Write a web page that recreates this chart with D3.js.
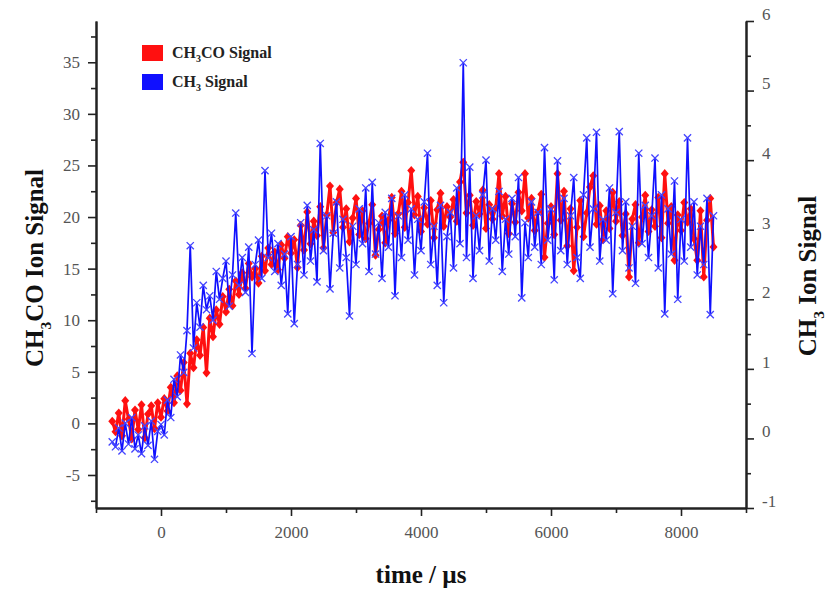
<!DOCTYPE html>
<html><head><meta charset="utf-8">
<script src="https://cdn.jsdelivr.net/npm/d3@7"></script>
<style>body{margin:0;background:#fff}</style>
</head><body>
<svg id="c" width="830" height="590"></svg>
<script>
const timeUs = [-750,-700,-650,-600,-550,-500,-450,-400,-350,-300,-250,-200,-150,-100,-50,
0,50,100,150,200,250,300,350,400,450,500,550,600,650,700,750,800,850,900,950,1000,1050,1100,1150,1200,1250,1300,1350,1400,1450,
1500,1550,1600,1650,1700,1750,1800,1850,1900,1950,2000,2050,2100,2150,2200,2250,2300,2350,2400,2450,2500,2550,2600,2650,2700,2750,2800,2850,2900,2950,
3000,3050,3100,3150,3200,3250,3300,3350,3400,3450,3500,3550,3600,3650,3700,3750,3800,3850,3900,3950,4000,4050,4100,4150,4200,4250,4300,4350,4400,4450,
4500,4550,4600,4650,4700,4750,4800,4850,4900,4950,5000,5050,5100,5150,5200,5250,5300,5350,5400,5450,5500,5550,5600,5650,5700,5750,5800,5850,5900,5950,
6000,6050,6100,6150,6200,6250,6300,6350,6400,6450,6500,6550,6600,6650,6700,6750,6800,6850,6900,6950,7000,7050,7100,7150,7200,7250,7300,7350,7400,7450,
7500,7550,7600,7650,7700,7750,7800,7850,7900,7950,8000,8050,8100,8150,8200,8250,8300,8350,8400,8450,8500];

const ch3coSignal = [0.2,-0.8,1.0,-1.2,2.2,0.4,-1.5,1.3,-0.6,1.8,-1.4,0.9,1.7,-0.5,2.0,
0.6,2.4,1.2,3.5,2.0,4.6,3.2,5.9,1.9,6.8,5.4,8.1,6.6,9.3,4.9,10.2,8.4,11.0,9.6,12.3,10.8,13.0,11.4,13.8,12.5,14.6,13.1,15.5,14.2,15.0,
13.6,16.2,14.8,17.0,15.4,16.6,14.9,17.3,16.0,18.1,16.5,17.8,15.1,19.2,16.8,20.5,17.4,19.6,18.2,21.0,17.0,20.2,23.0,18.5,21.4,22.7,19.0,20.8,17.6,19.9,
21.8,18.3,20.6,17.9,19.4,21.2,16.3,18.8,20.1,17.5,19.7,21.9,18.4,20.3,22.5,19.0,21.4,24.5,20.2,22.0,18.6,20.9,19.3,21.6,18.0,20.7,22.3,19.1,21.0,20.0,
21.7,19.6,23.4,25.3,20.4,22.1,19.2,21.5,20.3,22.6,18.9,21.2,19.8,20.9,24.2,20.1,22.0,18.4,21.3,19.5,22.4,20.6,24.2,19.9,21.8,18.7,20.5,22.2,16.1,19.4,
21.0,18.3,24.2,19.7,22.5,17.2,20.8,14.8,19.0,21.6,18.1,20.4,22.9,24.0,19.3,21.1,17.8,20.6,18.9,22.4,19.6,21.5,18.2,20.3,14.2,19.8,21.2,17.5,20.0,22.1,
18.6,20.7,19.1,21.9,18.0,24.2,19.4,21.0,15.8,20.2,18.7,21.4,19.5,20.8,17.9,15.8,20.6,14.2,19.7,21.8,17.1];

const ch3Signal = [-0.05,-0.12,0.15,-0.18,0.22,-0.08,0.30,-0.15,0.05,-0.22,0.18,-0.10,0.25,-0.30,0.10,
0.20,0.05,0.55,0.30,0.85,0.60,1.20,0.95,1.55,2.77,1.30,1.95,1.60,2.20,1.85,2.05,1.70,2.40,2.00,2.30,2.55,1.90,2.35,3.24,2.20,2.60,2.10,2.75,1.22,2.50,
2.85,2.30,3.85,2.60,2.95,2.40,2.80,2.20,2.65,1.79,2.90,1.65,2.50,3.10,2.35,3.35,2.55,3.00,2.25,4.24,2.70,3.20,2.15,2.95,3.40,2.45,3.15,2.60,1.76,3.05,
2.50,3.30,2.80,3.60,2.40,3.68,2.65,3.10,2.30,3.25,2.75,3.45,2.05,3.20,2.60,3.50,2.85,3.30,2.35,3.15,2.70,3.40,4.10,2.50,3.05,2.20,3.35,1.95,2.90,3.25,
2.45,3.60,2.80,5.40,2.60,3.90,2.30,3.20,2.70,3.50,4.00,2.55,3.30,2.85,3.55,2.40,3.15,2.65,3.45,2.90,3.75,2.02,3.10,2.60,3.40,2.75,3.25,2.50,4.18,2.85,
3.30,2.28,3.99,2.70,3.45,2.50,3.20,3.75,2.60,2.30,3.50,4.32,2.75,3.30,4.40,2.55,3.15,2.85,3.60,2.08,3.25,4.41,2.70,3.40,2.45,3.05,2.23,4.10,2.80,3.35,
2.60,3.20,4.03,2.45,3.50,1.79,3.30,2.65,3.70,2.00,3.15,2.55,4.32,2.75,3.40,2.35,3.05,2.50,3.45,1.78,3.20];

const xTicks = [0,2000,4000,6000,8000];
const leftTicks = [-5,0,5,10,15,20,25,30,35];
const rightTicks = [-1,0,1,2,3,4,5,6];
const legendLabels = [["CH","3","CO Signal"],["CH","3"," Signal"]];
const seriesColors = ["#ff1010","#1010ff"];

const svg = d3.select("#c");
const L=96, R=746, T=21, B=508;
const x = d3.scaleLinear().domain([-1000,9000]).range([L,R]);
const yL = d3.scaleLinear().domain([-8.2,39.0]).range([B,T]);
const yR = d3.scaleLinear().domain([-1,6]).range([B,T]);
const serif = "'Liberation Serif','Times New Roman',serif";
const axisCol = "#222";
const fmt = d => String(d);

// red series (left axis)
const redPts = timeUs.map((t,i)=>[x(t), yL(ch3coSignal[i])]);
svg.append("path").attr("d", d3.line()(redPts)).attr("fill","none")
  .attr("stroke",seriesColors[0]).attr("stroke-width",3).attr("stroke-linejoin","round");
svg.append("g").selectAll("path").data(redPts).join("path")
  .attr("d", d=>`M${d[0]},${d[1]-4.6}L${d[0]+4},${d[1]}L${d[0]},${d[1]+4.6}L${d[0]-4},${d[1]}Z`)
  .attr("fill",seriesColors[0]);

// blue series (right axis)
const bluePts = timeUs.map((t,i)=>[x(t), yR(ch3Signal[i])]);
svg.append("path").attr("d", d3.line()(bluePts)).attr("fill","none")
  .attr("stroke",seriesColors[1]).attr("stroke-width",1.7).attr("stroke-linejoin","round");
svg.append("g").selectAll("path").data(bluePts).join("path")
  .attr("d", d=>`M${d[0]-3.6},${d[1]-3.6}L${d[0]+3.6},${d[1]+3.6}M${d[0]+3.6},${d[1]-3.6}L${d[0]-3.6},${d[1]+3.6}`)
  .attr("stroke","#4444ff").attr("stroke-width",1.3).attr("fill","none");

// axes
function styleAxis(g){
  g.attr("font-family",serif).attr("font-size",16);
  g.selectAll(".domain").attr("stroke",axisCol).attr("stroke-width",2);
  g.selectAll(".tick line").attr("stroke",axisCol).attr("stroke-width",1.6);
  g.selectAll(".tick text").attr("font-family",serif).attr("font-size",17).attr("fill","#555");
}
const gxm = svg.append("g").attr("transform",`translate(0,${B})`)
  .call(d3.axisBottom(x).tickValues([-1000,1000,3000,5000,7000,9000]).tickSize(5).tickFormat("").tickSizeOuter(0));
styleAxis(gxm);
const gx = svg.append("g").attr("transform",`translate(0,${B})`)
  .call(d3.axisBottom(x).tickValues(xTicks).tickSize(8).tickPadding(10).tickFormat(fmt).tickSizeOuter(0));
styleAxis(gx);
const gyLm = svg.append("g").attr("transform",`translate(${L},0)`)
  .call(d3.axisLeft(yL).tickValues([-7.5,-2.5,2.5,7.5,12.5,17.5,22.5,27.5,32.5,37.5]).tickSize(5).tickFormat("").tickSizeOuter(0));
styleAxis(gyLm);
const gyL = svg.append("g").attr("transform",`translate(${L},0)`)
  .call(d3.axisLeft(yL).tickValues(leftTicks).tickSize(8).tickPadding(8).tickFormat(fmt).tickSizeOuter(0));
styleAxis(gyL);
const gyRm = svg.append("g").attr("transform",`translate(${R},0)`)
  .call(d3.axisRight(yR).tickValues([-0.5,0.5,1.5,2.5,3.5,4.5,5.5]).tickSize(5).tickFormat("").tickSizeOuter(0));
styleAxis(gyRm);
const gyR = svg.append("g").attr("transform",`translate(${R},0)`)
  .call(d3.axisRight(yR).tickValues(rightTicks).tickSize(8).tickPadding(8).tickFormat(fmt).tickSizeOuter(0));
styleAxis(gyR);
gyR.selectAll(".tick text").attr("dy","-0.1em");

// axis titles
function subTitle(g, parts, size){
  const t = g.append("text").attr("font-family",serif).attr("font-weight","bold")
    .attr("font-size",size).attr("fill","#111").attr("text-anchor","middle");
  t.append("tspan").text(parts[0]);
  t.append("tspan").attr("dy",size*0.3).attr("font-size",size*0.62).text(parts[1]);
  t.append("tspan").attr("dy",-size*0.3).text(parts[2]);
  return t;
}
subTitle(svg.append("g").attr("transform","translate(43,268) rotate(-90)"), ["CH","3","CO Ion Signal"], 25);
subTitle(svg.append("g").attr("transform","translate(816,276) rotate(-90)"), ["CH","3"," Ion Signal"], 25);
svg.append("text").attr("x",421).attr("y",583).attr("text-anchor","middle")
  .attr("font-family",serif).attr("font-weight","bold").attr("font-size",25).attr("fill","#111")
  .text("time / µs");

// legend
const lg = svg.append("g");
legendLabels.forEach((p,i)=>{
  const yy = 45 + i*29;
  lg.append("rect").attr("x",142).attr("y",yy).attr("width",21).attr("height",16).attr("fill",seriesColors[i]);
  const t = lg.append("text").attr("x",172).attr("y",yy+13).attr("font-family",serif)
    .attr("font-weight","bold").attr("font-size",16).attr("fill","#222");
  t.append("tspan").text(p[0]);
  t.append("tspan").attr("dy",4).attr("font-size",10).text(p[1]);
  t.append("tspan").attr("dy",-4).text(p[2]);
});
</script>
</body></html>
